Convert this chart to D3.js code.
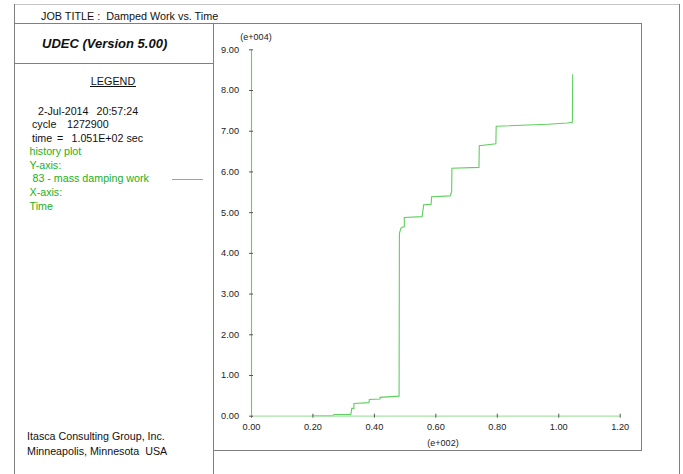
<!DOCTYPE html>
<html>
<head>
<meta charset="utf-8">
<script src="https://cdn.jsdelivr.net/npm/d3@7"></script>
<style>
  html, body { margin: 0; padding: 0; background: #fff; }
  svg { display: block; font-family: "Liberation Sans", Arial, sans-serif; }
  text { white-space: pre; }
</style>
</head>
<body>
<svg id="chart" width="683" height="474"></svg>
<script>
// History record: mass damping work vs. time
// time in units of e+002 s, work in units of e+004
const timeValues = [0.199, 0.267, 0.270, 0.325, 0.328, 0.335, 0.335, 0.384, 0.385, 0.420, 0.420, 0.482,
  0.483, 0.488, 0.492, 0.499, 0.499, 0.557, 0.562, 0.586, 0.588, 0.648, 0.653, 0.654,
  0.742, 0.743, 0.797, 0.798, 0.967, 1.029, 1.046, 1.047];
const workValues = [0.00, 0.00, 0.03, 0.03, 0.18, 0.18, 0.30, 0.32, 0.40, 0.41, 0.45, 0.48,
  4.48, 4.61, 4.63, 4.64, 4.87, 4.89, 5.18, 5.19, 5.38, 5.40, 5.50, 6.08,
  6.10, 6.63, 6.68, 7.11, 7.16, 7.19, 7.21, 8.39];

const xTicks = [0, 0.2, 0.4, 0.6, 0.8, 1.0, 1.2];
const yTicks = [0, 1, 2, 3, 4, 5, 6, 7, 8, 9];

const legendInfo = ["2-Jul-2014", "20:57:24", "1272900", "1.051E+02 sec"];
const legendSeries = ["history plot", "Y-axis:", " 83 - mass damping work", "X-axis:", "Time"];

const svg = d3.select("#chart");
const frame = "#7f7f7f";
const green = "#22b022";
const lineGreen = "#5fcf5f";
const axisGreen = "#a6e3a6";

// ---- page frame ----
function hline(x1, x2, y, c) {
  svg.append("line").attr("x1", x1).attr("x2", x2).attr("y1", y).attr("y2", y)
    .attr("stroke", c || frame).attr("stroke-width", 1).attr("shape-rendering", "crispEdges");
}
function vline(x, y1, y2, c) {
  svg.append("line").attr("x1", x).attr("x2", x).attr("y1", y1).attr("y2", y2)
    .attr("stroke", c || frame).attr("stroke-width", 1).attr("shape-rendering", "crispEdges");
}
hline(14, 679.5, 4.5, "#c4c4c4");
vline(14.5, 4, 474);
vline(679.5, 4, 474);
hline(14, 641.5, 23.5);
vline(213.5, 23, 474);
vline(641.5, 23, 450.5);
hline(213, 642, 450.5);
hline(14, 213.5, 63.5);

// ---- header and side panel text ----
svg.append("text").attr("x", 41).attr("y", 20).attr("font-size", 10.8).attr("fill", "#111")
  .text("JOB TITLE :  Damped Work vs. Time");
svg.append("text").attr("x", 42).attr("y", 47.5).attr("font-size", 13).attr("font-weight", "bold")
  .attr("font-style", "italic").attr("fill", "#111").text("UDEC (Version 5.00)");

svg.append("text").attr("x", 113).attr("y", 84.5).attr("font-size", 10.8).attr("fill", "#111")
  .attr("text-anchor", "middle").text("LEGEND");
hline(90, 136, 86.5, "#111");

const fs = 10.7;
function label(x, y, s, c) {
  svg.append("text").attr("x", x).attr("y", y).attr("font-size", fs).attr("fill", c || "#111").text(s);
}
label(38, 114.5, legendInfo[0]);
label(96.5, 114.5, legendInfo[1]);
label(32, 128, "cycle");
label(67, 128, legendInfo[2]);
label(32, 141.5, "time");
label(57, 141.5, "=");
label(71.5, 141.5, legendInfo[3]);

const seriesY = [154.5, 168.5, 182, 195.5, 209.5];
legendSeries.forEach((s, i) => label(29.5, seriesY[i], s, green));
svg.append("line").attr("x1", 172).attr("x2", 203).attr("y1", 179.5).attr("y2", 179.5)
  .attr("stroke", lineGreen).attr("stroke-width", 1);

label(27, 440, "Itasca Consulting Group, Inc.");
label(27, 454.5, "Minneapolis, Minnesota  USA");

// ---- plot ----
const x = d3.scaleLinear().domain([0, 1.2]).range([251, 619.7]);
const y = d3.scaleLinear().domain([0, 9]).range([415.7, 49.3]);

const fmt = d3.format(".2f");

const gx = svg.append("g").attr("transform", `translate(0,${y(0)})`)
  .call(d3.axisBottom(x).tickValues(xTicks).tickFormat(fmt).tickSize(0).tickSizeOuter(0).tickPadding(8));
const gy = svg.append("g").attr("transform", `translate(${x(0)},0)`)
  .call(d3.axisLeft(y).tickValues(yTicks).tickFormat(fmt).tickSize(0).tickSizeOuter(0).tickPadding(12));

gx.select(".domain").attr("stroke", axisGreen).attr("stroke-width", 1.3);
gy.select(".domain").attr("stroke", lineGreen).attr("stroke-width", 1.1);
[gx, gy].forEach(g => {
  g.selectAll("text").attr("font-size", 9.2).attr("fill", "#222")
    .attr("font-family", "'Liberation Sans', Arial, sans-serif");
});
gx.selectAll(".tick line").attr("y1", -2).attr("y2", 2).attr("stroke", "#555");
gy.selectAll(".tick line").attr("x1", -2).attr("x2", 2).attr("stroke", "#555");

const pts = timeValues.map((t, i) => [t, workValues[i]]);
svg.append("path").datum(pts)
  .attr("fill", "none").attr("stroke", lineGreen).attr("stroke-width", 1.1)
  .attr("d", d3.line().x(d => x(d[0])).y(d => y(d[1])));

// keep ticks above the curve and axis line
gx.raise(); gy.raise();
gx.select(".domain").lower(); gy.select(".domain").lower();

svg.append("text").attr("x", 256).attr("y", 40).attr("font-size", 9).attr("fill", "#222")
  .attr("text-anchor", "middle").text("(e+004)");
svg.append("text").attr("x", 443).attr("y", 445.5).attr("font-size", 9).attr("fill", "#222")
  .attr("text-anchor", "middle").text("(e+002)");
</script>
</body>
</html>
